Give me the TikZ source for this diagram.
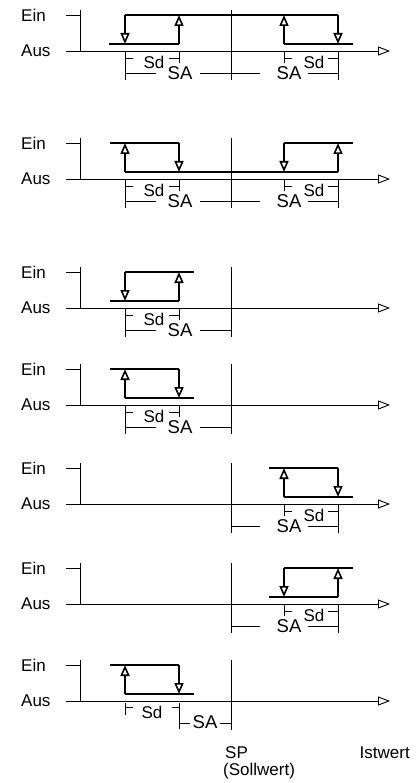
\documentclass[tikz,border=0pt]{standalone}
\usepackage{fontspec}
\setmainfont{Liberation Sans}
\usetikzlibrary{arrows.meta}
\begin{document}
\begin{tikzpicture}[x=1pt,y=-1pt,font=\fontsize{17}{19}\selectfont,line join=round,
	axis/.style={line width=.9pt},
	dim/.style={line width=.7pt},
	sig/.style={line width=1.6pt},
	flip/.style={sig,-{Triangle[open,fill=white,length=11pt,width=9pt]}},
	lbl/.style={inner sep=0pt},
	big/.style={lbl,font=\fontsize{18.5}{20}\selectfont}]
	\useasboundingbox (0,0) rectangle (417,783);
	% the seven panels: Ein/Aus axis and SP line
	\foreach \y [count=\i] in {51,179,308,405,504,604,701}{
		\draw[axis] (66,\y-36)--(80,\y-36) (80,\y-41)--(80,\y) (231,\y-41)--(231,\y+29);
		\draw[axis,-{Triangle[open,length=12pt,width=9pt]}] (66,\y)--(390,\y);
		\node[lbl,anchor=west] (ein\i) at (21,\y-36) {Ein};
		\node[lbl,anchor=west] (aus\i) at (21,\y) {Aus};
	}
	% two loops, top panels
	\draw[sig] (109,44)--(179,44) (284,44)--(353,44) (125,15)--(338,15);
	\draw[flip] (125,15)--(125,44);
	\draw[flip] (179,44)--(179,15);
	\draw[flip] (284,44)--(284,15);
	\draw[flip] (338,15)--(338,44);
	\draw[sig] (110,143)--(179,143) (284,143)--(353,143) (125,172)--(338,172);
	\draw[flip] (125,172)--(125,143);
	\draw[flip] (179,143)--(179,172);
	\draw[flip] (284,143)--(284,172);
	\draw[flip] (338,172)--(338,143);
	% single loops
	\foreach \y/\l/\r/\s/\o in {308/125/179/7/36,405/125/179/36/7,504/284/338/36/7,604/284/338/7/36,701/125/179/36/7}{
		\draw[sig] (\l-15,\y-\s)--(\r,\y-\s) (\l,\y-\o)--(\r+15,\y-\o);
		\draw[flip] (\l,\y-\o)--(\l,\y-\s);
		\draw[flip] (\r,\y-\s)--(\r,\y-\o);
	}
	% Sd and SA below SP
	\foreach \y in {51,179,308,405}{
		\draw[dim] (125,\y)--(125,\y+29) (179,\y)--(179,\y+12)
			(125,\y+7)--(133,\y+7) (169,\y+7)--(179,\y+7)
			(125,\y+22)--(156,\y+22) (200,\y+22)--(231,\y+22);
		\node[lbl] (sdl\y) at (154,\y+11) {Sd};
		\node[big] (sal\y) at (180,\y+22) {SA};
	}
	% Sd and SA above SP
	\foreach \y in {51,179,504,604}{
		\draw[dim] (284,\y)--(284,\y+12) (338,\y)--(338,\y+29)
			(284,\y+7)--(292,\y+7) (328,\y+7)--(338,\y+7)
			(231,\y+22)--(260,\y+22) (308,\y+22)--(338,\y+22);
		\node[lbl] (sdr\y) at (314,\y+11) {Sd};
		\node[big] (sar\y) at (289,\y+22) {SA};
	}
	% last panel
	\draw[dim] (125,703)--(125,715) (179,703)--(179,729)
		(125,707)--(133,707) (172,707)--(179,707)
		(179,723)--(190,723) (220,723)--(231,723);
	\node[lbl] (sd7) at (152,712) {Sd};
	\node[big] (sa7) at (205,722) {SA};
	\node[lbl,anchor=base west] (sp) at (225,758) {SP};
	\node[lbl,anchor=base west] (soll) at (223,775) {(Sollwert)};
	\node[lbl,anchor=base east] (ist) at (410,758) {Istwert};
\end{tikzpicture}
\end{document}
